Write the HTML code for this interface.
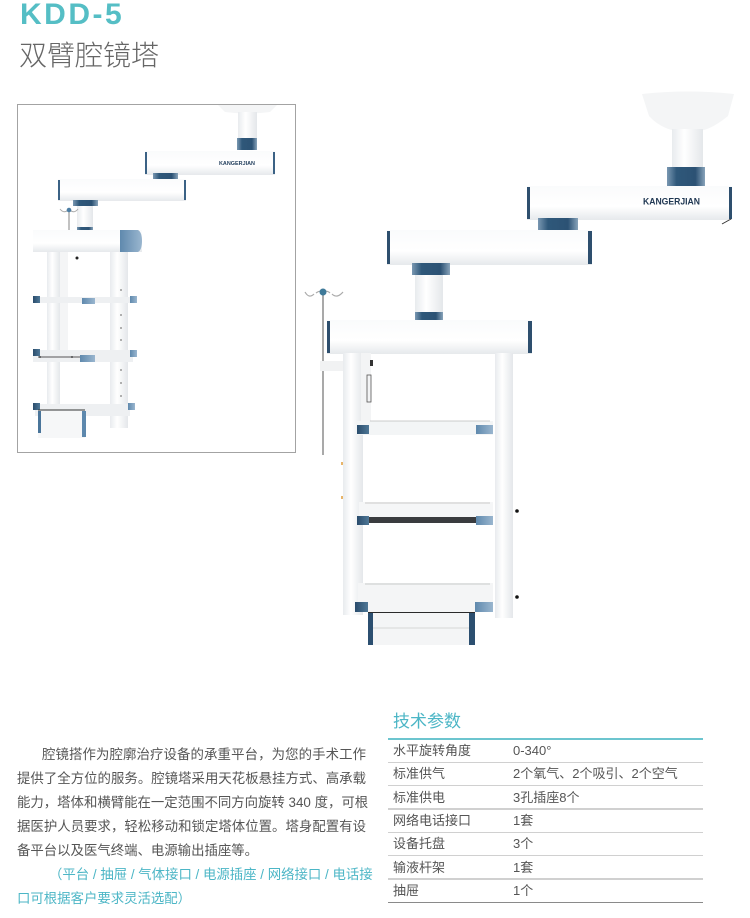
<!DOCTYPE html>
<html><head><meta charset="utf-8">
<style>
html,body{margin:0;padding:0;background:#fff;}
body{width:750px;height:918px;position:relative;overflow:hidden;font-family:"Liberation Sans","Noto Sans CJK SC",sans-serif;}
.abs{position:absolute;white-space:nowrap;}
.title{left:20px;top:-3px;font-size:30px;font-weight:bold;color:#55bec5;letter-spacing:2.5px;line-height:36px;}
.sub{left:19px;top:37px;font-size:28px;color:#666;line-height:34px;font-family:"Noto Sans CJK SC",sans-serif;font-weight:300;}
.p{font-size:13.4px;color:#555;line-height:24px;height:24px;}
.j{text-align:justify;text-align-last:justify;}
.blue{color:#4cb6c6;}
.th{left:393px;top:710px;font-size:17px;color:#4cb6c6;line-height:24px;}
.row{position:absolute;left:388px;width:315px;height:23px;font-size:13px;color:#555;line-height:23px;}
.row span{position:absolute;top:0;}
.c1{left:5px;}.c2{left:125px;}
.sep{position:absolute;left:388px;width:315px;height:1.5px;background:#d0d0d0;}
</style></head><body>

<svg class="abs" style="left:0;top:0" width="750" height="918" viewBox="0 0 750 918">
<defs>
<linearGradient id="arm" x1="0" y1="0" x2="0" y2="1">
<stop offset="0" stop-color="#fafbfc"/><stop offset="0.6" stop-color="#ffffff"/><stop offset="1" stop-color="#e6e9ec"/></linearGradient>
<linearGradient id="col" x1="0" y1="0" x2="1" y2="0">
<stop offset="0" stop-color="#e8ebee"/><stop offset="0.4" stop-color="#ffffff"/><stop offset="1" stop-color="#e4e7ea"/></linearGradient>
<linearGradient id="collar" x1="0" y1="0" x2="1" y2="0">
<stop offset="0" stop-color="#7a98b2"/><stop offset="0.25" stop-color="#2f587a"/><stop offset="0.75" stop-color="#2c5274"/><stop offset="1" stop-color="#88a3ba"/></linearGradient>
<linearGradient id="capL" x1="0" y1="0" x2="1" y2="0">
<stop offset="0" stop-color="#2a4c6c"/><stop offset="1" stop-color="#4f7897"/></linearGradient>
<linearGradient id="capR" x1="0" y1="0" x2="1" y2="0">
<stop offset="0" stop-color="#5f89ad"/><stop offset="1" stop-color="#9ab6cf"/></linearGradient>
</defs>

<!-- ===== inset frame ===== -->
<rect x="17.5" y="104.5" width="278" height="348" fill="#fff" stroke="#a3a3a3" stroke-width="1"/>
<path d="M218,105 L277,105 L270,112 Q247,115 225,112 Z" fill="#f4f5f6"/>
<rect x="238" y="112" width="19" height="26" fill="url(#col)"/>
<rect x="237" y="138" width="20" height="12" fill="url(#collar)"/>
<rect x="145" y="151" width="130" height="24" fill="url(#arm)"/>
<rect x="145" y="152" width="2" height="22" fill="#3b6285"/>
<rect x="273" y="152" width="2" height="22" fill="#3b6285"/>
<text x="219" y="165" font-family="Liberation Sans" font-weight="bold" font-size="5.5" fill="#24405e" textLength="36" lengthAdjust="spacingAndGlyphs">KANGERJIAN</text>
<rect x="153" y="173" width="25" height="6" fill="url(#collar)"/>
<rect x="58" y="179" width="128" height="22" fill="url(#arm)"/>
<rect x="58" y="180" width="2" height="20" fill="#3b6285"/>
<rect x="184" y="180" width="2" height="20" fill="#3b6285"/>
<rect x="73" y="200" width="25" height="6" fill="url(#collar)"/>
<rect x="77" y="206" width="16" height="22" fill="url(#col)"/>
<rect x="77" y="227" width="16" height="5" fill="url(#collar)"/>
<line x1="69" y1="211" x2="69" y2="232" stroke="#999" stroke-width="1.2"/>
<path d="M60,209 Q64,214 68,210 M70,210 Q74,214 78,209" stroke="#aaa" fill="none" stroke-width="1"/>
<circle cx="69" cy="210" r="2.3" fill="#4d7ea4"/>
<!-- head beam -->
<rect x="33" y="230" width="109" height="22" fill="url(#arm)"/>
<path d="M120,230 L138,230 Q142,232 142,241 Q142,250 138,252 L120,252 Z" fill="url(#capR)"/>
<!-- columns -->
<rect x="47" y="252" width="13" height="165" fill="url(#col)"/>
<rect x="60" y="252" width="8" height="100" fill="#f4f5f6"/>
<rect x="110" y="252" width="18" height="176" fill="url(#col)"/>
<g fill="#999">
<circle cx="121" cy="290" r="1"/><circle cx="121" cy="302" r="1"/><circle cx="121" cy="315" r="1"/><circle cx="121" cy="328" r="1"/><circle cx="121" cy="340" r="1"/><circle cx="121" cy="356" r="1"/><circle cx="121" cy="370" r="1"/><circle cx="121" cy="383" r="1"/><circle cx="121" cy="396" r="1"/>
</g>
<circle cx="77" cy="258" r="1.5" fill="#222"/>
<circle cx="121" cy="355" r="1.2" fill="#222"/>
<circle cx="124" cy="410" r="1.2" fill="#222"/>
<!-- shelves -->
<rect x="33" y="297" width="100" height="6" fill="#eef0f2"/>
<rect x="33" y="296" width="7" height="7" fill="url(#capL)"/>
<rect x="82" y="298" width="13" height="6" fill="url(#capR)"/>
<rect x="130" y="296" width="7" height="7" fill="url(#capR)"/>
<rect x="33" y="350" width="100" height="12" fill="#eef0f2"/>
<line x1="38" y1="357" x2="92" y2="357" stroke="#555" stroke-width="0.9"/>
<circle cx="40" cy="357" r="0.9" fill="#222"/><circle cx="72" cy="357" r="0.9" fill="#222"/>
<rect x="33" y="349" width="7" height="7" fill="url(#capL)"/>
<rect x="80" y="355" width="15" height="7" fill="url(#capR)"/>
<rect x="130" y="350" width="7" height="7" fill="url(#capR)"/>
<rect x="35" y="404" width="95" height="12" fill="#eef0f2"/>
<rect x="33" y="403" width="7" height="7" fill="url(#capL)"/>
<rect x="128" y="403" width="7" height="7" fill="url(#capR)"/>
<rect x="38" y="410" width="47" height="28" fill="#f6f7f8"/>
<line x1="38" y1="410" x2="85" y2="410" stroke="#333" stroke-width="1"/>
<rect x="38" y="411" width="3" height="22" fill="#4a759a"/>
<rect x="82" y="411" width="4" height="26" fill="#5d88ad"/>

<!-- ===== large figure ===== -->
<path d="M642,94 Q688,89 734,94 L728,116 Q712,129 700,131 L676,131 Q660,128 649,116 Z" fill="#f4f5f6"/>
<rect x="672" y="129" width="31" height="39" fill="url(#col)"/>
<rect x="667" y="167" width="38" height="19" fill="url(#collar)"/>
<rect x="527" y="186" width="205" height="34" fill="url(#arm)"/>
<rect x="527" y="187" width="3" height="32" fill="#2e4f6e"/>
<rect x="729" y="187" width="3" height="32" fill="#2e4f6e"/>
<line x1="722" y1="224" x2="731" y2="219" stroke="#333" stroke-width="1"/>
<text x="643" y="204.5" font-family="Liberation Sans" font-weight="bold" font-size="8.8" fill="#1f3752" textLength="57" lengthAdjust="spacingAndGlyphs">KANGERJIAN</text>
<rect x="538" y="218" width="40" height="14" fill="url(#collar)"/>
<rect x="387" y="230" width="205" height="35" fill="url(#arm)"/>
<rect x="387" y="231" width="3" height="33" fill="#2e4f6e"/>
<rect x="588" y="231" width="4" height="33" fill="#2e4f6e"/>
<rect x="412" y="263" width="38" height="12" fill="url(#collar)"/>
<rect x="415" y="275" width="28" height="38" fill="url(#col)"/>
<rect x="415" y="312" width="28" height="9" fill="url(#collar)"/>
<!-- head beam -->
<rect x="327" y="320" width="205" height="34" fill="url(#arm)"/>
<rect x="327" y="321" width="3" height="32" fill="#2e4f6e"/>
<rect x="528" y="321" width="4" height="32" fill="#2e4f6e"/>
<!-- IV pole -->
<line x1="323" y1="292" x2="323" y2="455" stroke="#a9a9a9" stroke-width="2"/>
<path d="M305,292 Q309,299 314,294 M316,293 Q320,290 323,292 Q327,290 330,293 M332,294 Q337,299 343,292" stroke="#aaa" fill="none" stroke-width="1.2"/>
<circle cx="323" cy="292" r="3.5" fill="#3f7a99"/>
<rect x="320" y="361" width="25" height="10" fill="#f1f2f3"/>
<!-- columns -->
<rect x="343" y="353" width="20" height="262" fill="url(#col)"/>
<rect x="495" y="353" width="18" height="265" fill="url(#col)"/>
<rect x="361" y="353" width="10" height="70" fill="#f3f4f5"/>
<rect x="367" y="375" width="4" height="27" fill="none" stroke="#555" stroke-width="0.8"/>
<rect x="370" y="360" width="3" height="6" fill="#333"/>
<g fill="#e8b56a"><rect x="341" y="462" width="2" height="3"/><rect x="341" y="496" width="2" height="3"/></g>
<circle cx="517" cy="511" r="1.8" fill="#111"/>
<circle cx="517" cy="597" r="1.8" fill="#111"/>
<!-- shelf 1 -->
<rect x="357" y="421" width="136" height="14" fill="#f3f5f6"/>
<line x1="370" y1="421" x2="490" y2="421" stroke="#bbb" stroke-width="0.8"/>
<rect x="357" y="425" width="12" height="9" fill="url(#capL)"/>
<rect x="476" y="425" width="17" height="9" fill="url(#capR)"/>
<!-- shelf 2 -->
<rect x="359" y="502" width="134" height="20" fill="#f5f6f7"/>
<line x1="365" y1="503" x2="490" y2="503" stroke="#bbb" stroke-width="0.8"/>
<rect x="357" y="517" width="126" height="6" fill="#3a3c3f"/>
<rect x="357" y="516" width="12" height="9" fill="url(#capL)"/>
<rect x="476" y="516" width="17" height="9" fill="url(#capR)"/>
<!-- shelf 3 -->
<rect x="358" y="583" width="135" height="29" fill="#f4f5f6"/>
<line x1="365" y1="584" x2="490" y2="584" stroke="#bbb" stroke-width="0.8"/>
<rect x="355" y="602" width="13" height="10" fill="url(#capL)"/>
<rect x="475" y="602" width="18" height="10" fill="url(#capR)"/>
<!-- drawer -->
<rect x="368" y="612" width="107" height="33" fill="#f4f5f6"/>
<line x1="368" y1="612.5" x2="475" y2="612.5" stroke="#2a2a2a" stroke-width="1"/>
<line x1="372" y1="628" x2="471" y2="628" stroke="#ccc" stroke-width="0.8"/>
<rect x="368" y="613" width="5" height="32" fill="#2c4f70"/>
<rect x="469" y="613" width="6" height="32" fill="#2c4f70"/>
</svg>

<div class="abs title">KDD-5</div>
<div class="abs sub">双臂腔镜塔</div>

<!-- paragraph -->
<div class="abs p j" style="left:42px;top:743px;width:324px;">腔镜搭作为腔廓治疗设备的承重平台，为您的手术工作</div>
<div class="abs p j" style="left:17px;top:767px;width:349px;">提供了全方位的服务。腔镜塔采用天花板悬挂方式、高承载</div>
<div class="abs p j" style="left:17px;top:791px;width:349px;">能力，塔体和横臂能在一定范围不同方向旋转 340 度，可根</div>
<div class="abs p j" style="left:17px;top:815px;width:349px;">据医护人员要求，轻松移动和锁定塔体位置。塔身配置有设</div>
<div class="abs p" style="left:17px;top:839px;">备平台以及医气终端、电源输出插座等。</div>
<div class="abs p j blue" style="left:49px;top:863px;width:317px;">（平台 / 抽屉 / 气体接口 / 电源插座 / 网络接口 / 电话接</div>
<div class="abs p blue" style="left:17px;top:887px;">口可根据客户要求灵活选配）</div>

<!-- table -->
<div class="abs th">技术参数</div>
<div class="sep" style="top:738px;background:#6cc5cf;height:1.5px;"></div>
<div class="row" style="top:739px;"><span class="c1">水平旋转角度</span><span class="c2">0-340°</span></div>
<div class="sep" style="top:761.5px;"></div>
<div class="row" style="top:762px;"><span class="c1">标准供气</span><span class="c2">2个氧气、2个吸引、2个空气</span></div>
<div class="sep" style="top:784.5px;"></div>
<div class="row" style="top:786px;"><span class="c1">标准供电</span><span class="c2">3孔插座8个</span></div>
<div class="sep" style="top:808px;"></div>
<div class="row" style="top:809px;"><span class="c1">网络电话接口</span><span class="c2">1套</span></div>
<div class="sep" style="top:831.5px;"></div>
<div class="row" style="top:832px;"><span class="c1">设备托盘</span><span class="c2">3个</span></div>
<div class="sep" style="top:854.5px;"></div>
<div class="row" style="top:856px;"><span class="c1">输液杆架</span><span class="c2">1套</span></div>
<div class="sep" style="top:878px;"></div>
<div class="row" style="top:879px;"><span class="c1">抽屉</span><span class="c2">1个</span></div>
<div class="sep" style="top:901.5px;background:#8a8a8a;"></div>

</body></html>
